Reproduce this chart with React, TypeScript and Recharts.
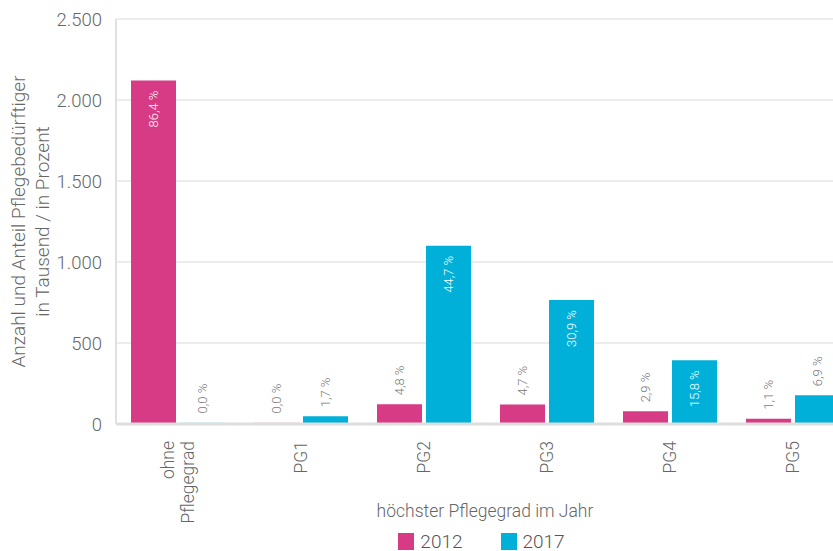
import React from 'react';
import { BarChart, Bar, XAxis, YAxis, CartesianGrid, Legend, LabelList, Label, Cell } from 'recharts';

const categories = ['ohne Pflegegrad', 'PG1', 'PG2', 'PG3', 'PG4', 'PG5'];
const values2012 = [2120, 10, 122, 120, 78, 33];
const values2017 = [10, 48, 1100, 765, 393, 178];
const pct2012 = ['86,4 %', '0,0 %', '4,8 %', '4,7 %', '2,9 %', '1,1 %'];
const pct2017 = ['0,0 %', '1,7 %', '44,7 %', '30,9 %', '15,8 %', '6,9 %'];
const yTicks = [0, 500, 1000, 1500, 2000, 2500];

const PINK = '#d83b85';
const CYAN = '#00b0d9';
const FONT = 'Roboto, sans-serif';

const data = categories.map((c, i) => ({
    cat: c,
    y2012: values2012[i],
    y2017: values2017[i],
    p2012: pct2012[i],
    p2017: pct2017[i],
}));

const fmt = (v: number) => String(v).replace(/\B(?=(\d{3})+(?!\d))/g, '.');

const CatTick: React.FC<any> = ({ x, y, payload }) => {
    const lines = payload.value === 'ohne Pflegegrad' ? ['ohne', 'Pflegegrad'] : [payload.value];
    const step = 20;
    const start = -((lines.length - 1) * step) / 2;
    return (
        <g>
            {lines.map((l, i) => {
                const lx = x + start + i * step;
                const ly = y + 9;
                return (
                    <text
                        key={i}
                        x={lx}
                        y={ly}
                        transform={`rotate(-90 ${lx} ${ly})`}
                        textAnchor="end"
                        dy="0.36em"
                        fill="#666"
                        fontSize={17.5}
                        fontFamily={FONT}
                        fontWeight={300}
                    >
                        {l}
                    </text>
                );
            })}
        </g>
    );
};

const BarLabel: React.FC<any> = ({ x, y, width, height, value }) => {
    const cx = x + width / 2;
    const inside = height > 50;
    const ly = inside ? y + 10 : y - 9;
    return (
        <text
            x={cx}
            y={ly}
            transform={`rotate(-90 ${cx} ${ly})`}
            textAnchor={inside ? 'end' : 'start'}
            dy="0.36em"
            fill={inside ? '#fff' : '#777'}
            fontSize={13}
            fontFamily={FONT}
            fontWeight={300}
        >
            {value}
        </text>
    );
};

const YTitle: React.FC<any> = ({ viewBox }) => {
    const cy = viewBox.y + viewBox.height / 2;
    const lines = ['Anzahl und Anteil Pflegebedürftiger', 'in Tausend / in Prozent'];
    return (
        <g>
            {lines.map((l, i) => {
                const lx = 18 + i * 24;
                return (
                    <text
                        key={i}
                        x={lx}
                        y={cy}
                        transform={`rotate(-90 ${lx} ${cy})`}
                        textAnchor="middle"
                        dy="0.36em"
                        fill="#666"
                        fontSize={19}
                        fontFamily={FONT}
                        fontWeight={300}
                    >
                        {l}
                    </text>
                );
            })}
        </g>
    );
};

const LegendContent: React.FC<any> = ({ payload }) => (
    <div style={{ display: 'flex', justifyContent: 'center', gap: 38, paddingLeft: 109 }}>
        {(payload || []).map((p: any) => (
            <div key={p.value} style={{ display: 'flex', alignItems: 'center', height: 20 }}>
                <span style={{ width: 16, height: 17, background: p.color, display: 'inline-block', marginRight: 6 }} />
                <span style={{ fontFamily: FONT, fontWeight: 300, fontSize: 19, color: '#555' }}>{p.value}</span>
            </div>
        ))}
    </div>
);

export default function App() {
    return (
        <div style={{ width: 833, height: 551, overflow: 'hidden' }}>
            <style>{'body{margin:0}'}</style>
            <BarChart
                width={833}
                height={551}
                data={data}
                margin={{ top: 19, right: -21, left: 0, bottom: 0 }}
                barSize={45}
                barGap={4}
            >
                <CartesianGrid vertical={false} stroke="#e6e6e6" strokeWidth={1.5} />
                <XAxis
                    dataKey="cat"
                    interval={0}
                    height={107}
                    tick={<CatTick />}
                    tickLine={false}
                    axisLine={{ stroke: '#dedede', strokeWidth: 3 }}
                >
                    <Label
                        value="höchster Pflegegrad im Jahr"
                        position="insideBottom"
                        offset={14}
                        fill="#666"
                        fontSize={17.5}
                        fontFamily={FONT}
                        fontWeight={300}
                    />
                </XAxis>
                <YAxis
                    width={116}
                    domain={[0, 2500]}
                    ticks={yTicks}
                    tickFormatter={fmt}
                    tickLine={false}
                    tickMargin={8}
                    axisLine={{ stroke: '#e0e0e0', strokeWidth: 2 }}
                    tick={{ fill: '#666', fontSize: 18.5, fontFamily: FONT, fontWeight: 300 }}
                >
                    <Label content={<YTitle />} />
                </YAxis>
                <Legend verticalAlign="bottom" height={20} content={<LegendContent />} />
                <Bar dataKey="y2012" name="2012" fill={PINK} isAnimationActive={false}>
                    {pct2012.map((p, i) => (
                        <Cell key={i} fill={PINK} fillOpacity={p === '0,0 %' ? 0.3 : 1} />
                    ))}
                    <LabelList dataKey="p2012" content={<BarLabel />} />
                </Bar>
                <Bar dataKey="y2017" name="2017" fill={CYAN} isAnimationActive={false}>
                    {pct2017.map((p, i) => (
                        <Cell key={i} fill={CYAN} fillOpacity={p === '0,0 %' ? 0.3 : 1} />
                    ))}
                    <LabelList dataKey="p2017" content={<BarLabel />} />
                </Bar>
            </BarChart>
        </div>
    );
}
